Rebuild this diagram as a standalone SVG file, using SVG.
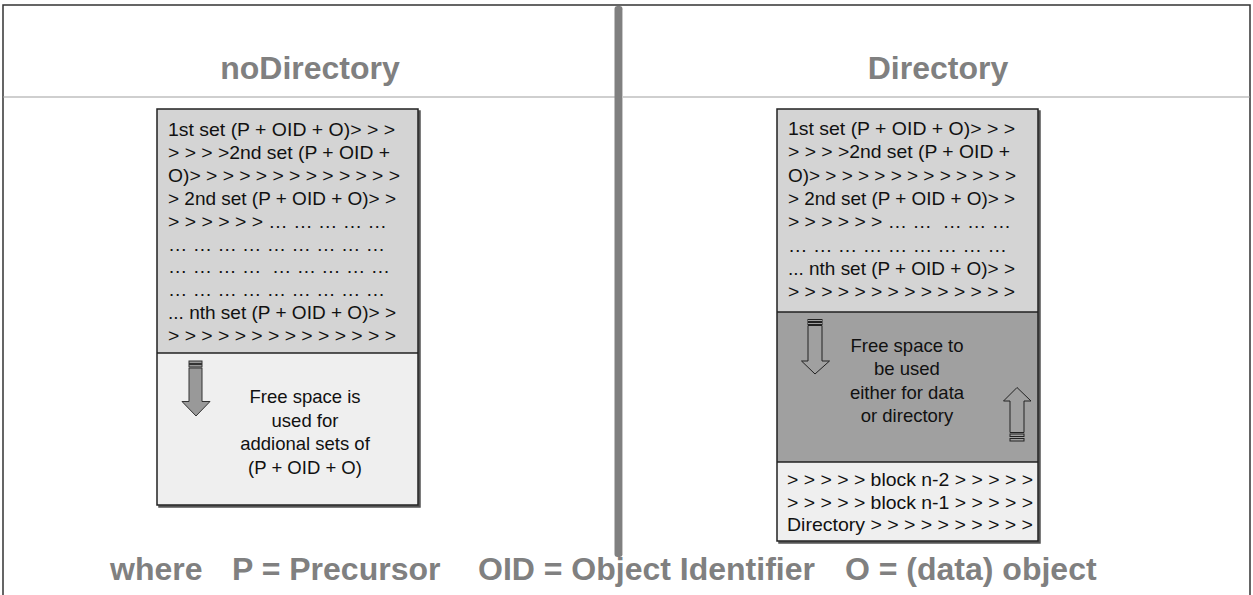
<svg xmlns="http://www.w3.org/2000/svg" width="1253" height="595" viewBox="0 0 1253 595">
  <style>
    .title { font-family: "Liberation Sans", Arial, sans-serif; font-weight: bold; font-size: 32px; fill: #808080; text-anchor: middle; }
    .legend { font-family: "Liberation Sans", Arial, sans-serif; font-weight: bold; font-size: 32px; fill: #808080; }
    .body { font-family: "Liberation Sans", Arial, sans-serif; font-size: 18.5px; fill: #111111; }
    .mid { text-anchor: middle; }
    .frame { stroke: #333333; stroke-width: 1.5; fill: none; }
    .sep { stroke: #a0a0a0; stroke-width: 1.2; }
    .box { stroke: #222222; stroke-width: 1.5; }
    .light { fill: #d4d4d4; }
    .pale { fill: #efefef; }
    .dark { fill: #a0a0a0; }
    .arrowFilled { fill: #999999; stroke: #333333; stroke-width: 1; }
    .arrowOutline { fill: none; stroke: #222222; stroke-width: 1; }
  </style>
  <defs>
    <filter id="shadow" x="-5%" y="-5%" width="115%" height="115%">
      <feOffset dx="1.5" dy="1.5" in="SourceAlpha" result="o"/>
      <feFlood flood-color="#555555"/>
      <feComposite in2="o" operator="in"/>
      <feMerge><feMergeNode/><feMergeNode in="SourceGraphic"/></feMerge>
    </filter>
  </defs>

  <rect width="1253" height="595" fill="#ffffff"/>

  <!-- outer frame, title separator and centre divider -->
  <g id="frame">
    <path class="frame" d="M3,600 V5 H1250 V600"/>
    <line class="sep" x1="3" y1="97" x2="1250" y2="97"/>
    <rect x="614.5" y="6" width="8" height="551" rx="3" fill="#808080"/>
    <line x1="622.5" y1="10" x2="622.5" y2="554" stroke="#c8c8c8" stroke-width="1"/>
  </g>

  <!-- headings -->
  <g id="titles" class="title">
    <text x="310" y="79">noDirectory</text>
    <text x="938" y="79">Directory</text>
  </g>

  <!-- left memory block: no directory -->
  <g id="noDirectoryBlock">
    <g filter="url(#shadow)">
      <rect class="light" x="157" y="109" width="261" height="244"/>
      <rect class="pale" x="157" y="353" width="261" height="152"/>
      <rect class="box" x="157" y="109" width="261" height="396" fill="none"/>
      <line class="box" x1="157" y1="353" x2="418" y2="353"/>
    </g>
    <g class="body">
      <text x="168" y="136" textLength="227" lengthAdjust="spacingAndGlyphs">1st set (P + OID + O)&gt; &gt; &gt;</text>
      <text x="168" y="158.9" textLength="222" lengthAdjust="spacingAndGlyphs">&gt; &gt; &gt; &gt;2nd set (P + OID +</text>
      <text x="168" y="181.8" textLength="232" lengthAdjust="spacingAndGlyphs">O)&gt; &gt; &gt; &gt; &gt; &gt; &gt; &gt; &gt; &gt; &gt; &gt; &gt;</text>
      <text x="168" y="204.7" textLength="228" lengthAdjust="spacingAndGlyphs">&gt; 2nd set (P + OID + O)&gt; &gt;</text>
      <text x="168" y="227.6" textLength="219" lengthAdjust="spacingAndGlyphs">&gt; &gt; &gt; &gt; &gt; &gt; … … … … …</text>
      <text x="168" y="250.5" textLength="217" lengthAdjust="spacingAndGlyphs">… … … … … … … … …</text>
      <text x="168" y="273.4" textLength="222" lengthAdjust="spacingAndGlyphs" xml:space="preserve">… … … …  … … … … …</text>
      <text x="168" y="296.3" textLength="217" lengthAdjust="spacingAndGlyphs">… … … … … … … … …</text>
      <text x="168" y="319.2" textLength="228" lengthAdjust="spacingAndGlyphs">... nth set (P + OID + O)&gt; &gt;</text>
      <text x="168" y="342.1" textLength="228" lengthAdjust="spacingAndGlyphs">&gt; &gt; &gt; &gt; &gt; &gt; &gt; &gt; &gt; &gt; &gt; &gt; &gt; &gt;</text>
    </g>
    <!-- striped down arrow -->
    <g class="arrowFilled">
      <rect x="189" y="361" width="13" height="2.5"/>
      <rect x="189" y="364.5" width="13" height="2.5"/>
      <path d="M189,368 H202 V401.5 H210 L196,416 L182,401.5 H189 Z"/>
    </g>
    <g class="body mid">
      <text x="305" y="403">Free space is</text>
      <text x="305" y="426.5">used for</text>
      <text x="305" y="450">addional sets of</text>
      <text x="305" y="473.5">(P + OID + O)</text>
    </g>
  </g>

  <!-- right memory block: with directory -->
  <g id="directoryBlock">
    <g filter="url(#shadow)">
      <rect class="light" x="777" y="109" width="261" height="203"/>
      <rect class="dark" x="777" y="312" width="261" height="150"/>
      <rect class="pale" x="777" y="462" width="261" height="79"/>
      <rect class="box" x="777" y="109" width="261" height="432" fill="none" stroke="#111111"/>
      <line class="box" x1="777" y1="312" x2="1038" y2="312"/>
      <line class="box" x1="777" y1="462" x2="1038" y2="462"/>
    </g>
    <g class="body">
      <text x="788" y="135" textLength="227" lengthAdjust="spacingAndGlyphs">1st set (P + OID + O)&gt; &gt; &gt;</text>
      <text x="788" y="158.3" textLength="222" lengthAdjust="spacingAndGlyphs">&gt; &gt; &gt; &gt;2nd set (P + OID +</text>
      <text x="788" y="181.6" textLength="228" lengthAdjust="spacingAndGlyphs">O)&gt; &gt; &gt; &gt; &gt; &gt; &gt; &gt; &gt; &gt; &gt; &gt; &gt;</text>
      <text x="788" y="204.9" textLength="227" lengthAdjust="spacingAndGlyphs">&gt; 2nd set (P + OID + O)&gt; &gt;</text>
      <text x="788" y="228.2" textLength="223" lengthAdjust="spacingAndGlyphs" xml:space="preserve">&gt; &gt; &gt; &gt; &gt; &gt; … …  … … …</text>
      <text x="788" y="251.5" textLength="219" lengthAdjust="spacingAndGlyphs">… … … … … … … … …</text>
      <text x="788" y="274.8" textLength="227" lengthAdjust="spacingAndGlyphs">... nth set (P + OID + O)&gt; &gt;</text>
      <text x="788" y="298.1" textLength="227" lengthAdjust="spacingAndGlyphs">&gt; &gt; &gt; &gt; &gt; &gt; &gt; &gt; &gt; &gt; &gt; &gt; &gt; &gt;</text>
    </g>
    <!-- striped outline arrows: data grows down, directory grows up -->
    <g class="arrowOutline">
      <rect x="808" y="319.5" width="14" height="2"/>
      <rect x="808" y="322.5" width="14" height="2"/>
      <path d="M808,325.5 H822 V361 H829.5 L815,374 L801.5,361 H808 Z"/>
      <path d="M1010,432.5 H1024 V401 H1031 L1017,387.5 L1003.5,401 H1010 Z"/>
      <rect x="1010" y="434" width="14" height="2.5"/>
      <rect x="1010" y="438.5" width="14" height="2.5"/>
    </g>
    <g class="body mid">
      <text x="907" y="352">Free space to</text>
      <text x="907" y="375">be used</text>
      <text x="907" y="398.5">either for data</text>
      <text x="907" y="421.5">or directory</text>
    </g>
    <g class="body">
      <text x="787" y="486" textLength="246" lengthAdjust="spacingAndGlyphs">&gt; &gt; &gt; &gt; &gt; block n-2 &gt; &gt; &gt; &gt; &gt;</text>
      <text x="787" y="508.5" textLength="246" lengthAdjust="spacingAndGlyphs">&gt; &gt; &gt; &gt; &gt; block n-1 &gt; &gt; &gt; &gt; &gt;</text>
      <text x="787" y="531" textLength="246" lengthAdjust="spacingAndGlyphs">Directory &gt; &gt; &gt; &gt; &gt; &gt; &gt; &gt; &gt; &gt;</text>
    </g>
  </g>

  <!-- legend -->
  <g id="legend" class="legend">
    <text x="110" y="580">where</text>
    <text x="232" y="580">P = Precursor</text>
    <text x="478" y="580">OID = Object Identifier</text>
    <text x="845" y="580">O = (data) object</text>
  </g>
</svg>
